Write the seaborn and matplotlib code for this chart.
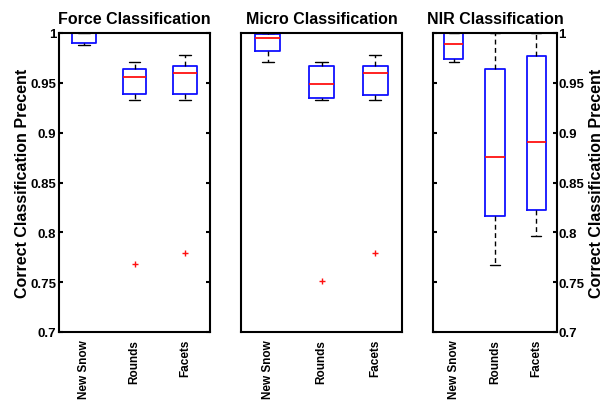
import pandas as pd
import matplotlib.pyplot as plt
import seaborn as sns

classes = ['New Snow', 'Rounds', 'Facets']

# per-fold classification scores
force_scores = {
    'New Snow': [0.988, 0.988, 0.990, 0.990, 1.0, 1.0, 1.0, 1.0, 1.0],
    'Rounds': [0.768, 0.933, 0.9385, 0.9385, 0.956, 0.964, 0.964, 0.971, 0.971],
    'Facets': [0.779, 0.933, 0.9385, 0.9385, 0.960, 0.967, 0.967, 0.978, 0.978],
}
micro_scores = {
    'New Snow': [0.971, 0.971, 0.982, 0.982, 0.995, 0.999, 0.999, 1.0, 1.0],
    'Rounds': [0.751, 0.933, 0.9345, 0.9345, 0.9485, 0.967, 0.967, 0.971, 0.971],
    'Facets': [0.779, 0.933, 0.938, 0.938, 0.960, 0.967, 0.967, 0.978, 0.978],
}
nir_scores = {
    'New Snow': [0.971, 0.971, 0.974, 0.974, 0.989, 1.0, 1.0, 1.0, 1.0],
    'Rounds': [0.767, 0.767, 0.816, 0.816, 0.876, 0.9636, 0.9636, 1.0, 1.0],
    'Facets': [0.796, 0.796, 0.822, 0.822, 0.891, 0.9766, 0.9766, 1.0, 1.0],
}
titles = ['Force Classification', 'Micro Classification', 'NIR Classification']
yticks = [0.7, 0.75, 0.8, 0.85, 0.9, 0.95, 1.0]
ytick_labels = ['0.7', '0.75', '0.8', '0.85', '0.9', '0.95', '1']


def to_long(scores):
    rows = []
    for c in classes:
        for v in scores[c]:
            rows.append({'Class': c, 'Score': v})
    return pd.DataFrame(rows)


sns.set_style('white')
plt.rcParams['font.family'] = ['Liberation Sans', 'DejaVu Sans']
plt.rcParams['font.weight'] = 'bold'
plt.rcParams['text.color'] = 'black'
plt.rcParams['axes.labelcolor'] = 'black'
plt.rcParams['xtick.color'] = 'black'
plt.rcParams['ytick.color'] = 'black'

fig = plt.figure(figsize=(6.03, 4.02), dpi=100)
W, H = 603, 402
boxes = [(59, 151), (241, 161), (433, 124)]
axes = []
for left, width in boxes:
    axes.append(fig.add_axes([left / W, (H - 333) / H, width / W, 299 / H]))

ylab = 'Correct Classification Precent'
for i, (ax, scores) in enumerate(zip(axes, [force_scores, micro_scores, nir_scores])):
    df = to_long(scores)
    sns.boxplot(data=df, x='Class', y='Score', order=classes, ax=ax, fill=False,
                width=0.47, whis=1.5, linewidth=1.3,
                boxprops=dict(color='#1010ff'),
                medianprops=dict(color='#ff1010'),
                whiskerprops=dict(color='black', linestyle=(0, (3.5, 2.5)), linewidth=1.0),
                capprops=dict(color='black', linewidth=1.0),
                flierprops=dict(marker='+', markeredgecolor='#ff1010',
                                markerfacecolor='none', markersize=4, markeredgewidth=1.0))
    ax.set_ylim(0.7, 1.0)
    ax.set_xlim(-0.5, 2.5)
    ax.set_title(titles[i], fontsize=11.5, fontweight='bold', color='black', pad=7)
    ax.set_xlabel('')
    ax.set_xticks(range(3))
    ax.set_xticklabels(classes, rotation=90, fontsize=8.5, fontweight='bold')
    ax.tick_params(axis='x', length=0, pad=5)
    for s in ax.spines.values():
        s.set_visible(True)
        s.set_color('black')
        s.set_linewidth(1.5)
    ax.set_yticks(yticks)
    ax.set_yticklabels(ytick_labels, fontsize=9.5, fontweight='bold')
    if i == 0:
        ax.tick_params(axis='y', direction='in', length=3, width=1.5, left=True, right=True,
                       labelleft=True, labelright=False, pad=2)
        ax.set_ylabel(ylab, fontsize=11.5, fontweight='bold')
        ax.yaxis.set_label_coords(-0.195, 0.5)
    elif i == 1:
        ax.tick_params(axis='y', length=0, left=False, right=False,
                       labelleft=False, labelright=False)
        ax.set_ylabel('')
    else:
        ax.tick_params(axis='y', direction='in', length=3, width=1.5, left=True, right=True,
                       labelleft=False, labelright=True, pad=1)
        ax.yaxis.set_label_position('right')
        ax.set_ylabel(ylab, fontsize=11.5, fontweight='bold')
        ax.yaxis.set_label_coords(1.255, 0.5)

fig.savefig('out.png', dpi=100)
